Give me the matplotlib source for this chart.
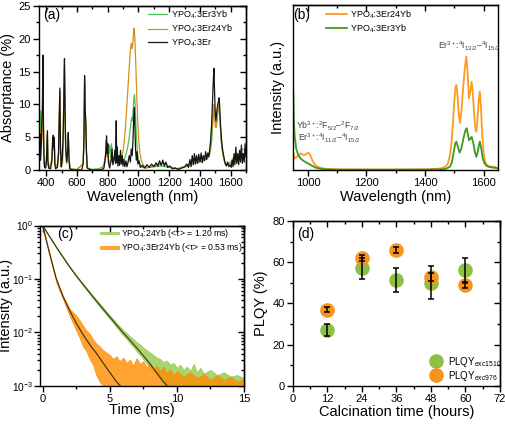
import numpy as np
import matplotlib
matplotlib.use("Agg")
import matplotlib.pyplot as plt
from matplotlib.ticker import MultipleLocator, LogLocator, NullFormatter

plt.rcParams['font.family'] = ['Liberation Sans', 'DejaVu Sans']
plt.rcParams['mathtext.fontset'] = 'custom'
plt.rcParams['mathtext.rm'] = 'Liberation Sans'
plt.rcParams['mathtext.it'] = 'Liberation Sans:italic'
plt.rcParams['mathtext.bf'] = 'Liberation Sans:bold'

# ---- (a) absorptance spectra: (wavelength nm, absorptance %)
a_black = np.array([
    (350,0.4),(355,2.8),(359,5.5),(362,1.5),(366,3),(370,7),(374,9),(378,17.5),(381,8),(384,2.5),
    (388,0.4),(396,0.3),(401,1.5),(404,4),(407,6),(410,1.5),(415,0.3),(428,0.2),(436,1.5),(441,4.5),
    (445,5.3),(448,3.5),(451,5),(455,1),(460,0.2),(472,0.4),(479,2.5),(484,8),(488,12.5),(492,3.5),
    (497,0.5),(503,1.5),(509,5),(514,11),(518,17),(522,9),(526,3.5),(532,1.2),(539,3),(543,5.7),
    (547,2),(552,0.2),(570,0),(630,0),(640,1),(645,5),(649,14.4),(653,9),(657,7.5),(661,3),
    (666,0.3),(690,0),(760,0),(775,0.3),(782,1.5),(788,3),(792,5.2),(796,2.5),(800,4),(804,1.2),
    (812,0.3),(822,1.5),(828,3.2),(833,0.8),(840,1.5),(846,3),(851,1),(855,7.5),(858,1.2),(862,3.5),
    (866,0.6),(872,2.2),(877,0.7),(883,3),(888,0.9),(894,2.2),(899,0.6),(905,1.6),(911,0.5),(918,1.4),
    (925,0.5),(932,1.2),(940,2.2),(947,1.2),(953,3.2),(959,2.2),(964,4.5),(969,8),(973,9.5),(977,6),
    (981,3),(986,1.5),(991,2.8),(996,0.9),(1003,1.4),(1012,0.4),(1025,0.7),(1040,0.3),(1055,0.8),
    (1070,0.4),(1085,0.9),(1100,0.5),(1115,1.1),(1126,0.6),(1137,1.4),(1148,0.7),(1158,1.5),(1168,0.6),
    (1178,1.2),(1190,0.4),(1205,0.6),(1220,0.2),(1240,0.3),(1260,0.1),(1280,0.3),(1300,0.5),(1315,0.9),
    (1325,0.4),(1335,1.6),(1342,0.5),(1350,2.2),(1357,0.8),(1364,2.5),(1371,0.9),(1378,2.2),(1385,1.0),
    (1392,2.4),(1400,1.2),(1408,2.6),(1415,1.1),(1422,2.2),(1430,1.4),(1437,2.8),(1444,1.6),(1451,2.6),
    (1458,2.0),(1464,3.2),(1470,4.5),(1476,7),(1481,10),(1486,13),(1491,15.5),(1495,12),(1499,9),
    (1504,7.5),(1510,9),(1516,10),(1521,10.5),(1525,11),(1530,9),(1535,6.5),(1541,4.5),(1548,3),
    (1556,2),(1564,1),(1572,0.6),(1580,1.2),(1588,0.5),(1596,0.8),(1604,0.4),(1610,1.5),(1616,0.5),
    (1622,2.5),(1628,0.8),(1634,3.5),(1640,1),(1646,2.5),(1652,0.8),(1658,3),(1664,1.2),(1670,3.8),
    (1676,1),(1682,2.5),(1688,1.2),(1694,4),(1700,2)])

a_green = np.array([
    (350,1),(355,4),(359,7),(363,9),(367,5),(372,6),(377,12),(381,5),(385,1),(392,0.3),(400,1.5),
    (404,3.5),(407,5),(410,1),(418,0.2),(436,1.2),(441,4),(445,4.5),(449,3),(452,4.2),(456,0.8),
    (470,0.3),(480,2.5),(484,7),(488,11),(492,3),(498,0.4),(505,1.2),(510,4.5),(514,10),(518,15.5),
    (522,8),(526,3),(533,1),(539,2.5),(543,5),(548,1.5),(555,0.2),(600,0.1),(640,1),(645,4.5),
    (649,13),(653,8),(657,6.5),(661,2.5),(667,0.3),(700,0.1),(740,0.2),(770,0.5),(785,2),(790,4.5),
    (795,3),(800,3.8),(806,2.5),(812,3.8),(818,2),(824,4),(830,2.2),(838,1.5),(846,2.2),(854,1.5),
    (862,2),(870,1.2),(880,1.5),(890,1.2),(900,1.4),(910,1.8),(920,2.5),(930,3.5),(940,5),(948,6.5),
    (955,8),(960,7.5),(965,9),(970,11),(974,11.5),(978,10),(983,7),(988,4.5),(994,2.5),(1000,1.5),
    (1010,0.8),(1025,0.4),(1050,0.3),(1100,0.5),(1150,0.6),(1200,0.4),(1250,0.2),(1300,0.4),
    (1340,0.8),(1380,1.2),(1420,1.4),(1450,1.8),(1465,2.5),(1475,4),(1482,6.5),(1488,8.5),
    (1493,9.5),(1498,8),(1503,6.5),(1509,7),(1515,8.5),(1521,9.5),(1526,9),(1532,7),(1538,4.5),
    (1545,3),(1555,1.8),(1565,1),(1580,0.8),(1600,1),(1620,1.5),(1640,1.8),(1660,2),(1680,2.5),
    (1700,2.5)])

a_orange = np.array([
    (350,2),(355,3.5),(359,6),(363,5),(367,3.5),(372,5),(377,13),(381,6),(385,1.5),(392,0.4),
    (400,1),(404,3),(407,5.5),(410,1.2),(418,0.3),(436,1.5),(441,4.5),(445,5),(449,3.2),(452,4.8),
    (456,1),(470,0.4),(480,2.5),(484,8),(488,12),(492,3.5),(498,0.5),(505,1.5),(510,5),(514,11),
    (518,16),(522,8.5),(526,3.5),(533,1.2),(539,2.8),(543,5.5),(548,1.8),(555,0.2),(600,0),(640,1),
    (645,4.8),(649,13.5),(653,8.5),(657,7),(661,2.8),(667,0.3),(700,0),(760,0.1),(780,1),(788,2.5),
    (792,4.5),(796,2),(800,3.5),(806,1.5),(815,1),(825,2),(832,1),(840,1.5),(848,2.5),(855,5),
    (860,1.5),(868,1.5),(876,1),(884,1.5),(892,2),(900,3),(908,4.5),(915,6.5),(922,9),(930,12),
    (938,15),(945,17.5),(950,19),(955,19.3),(960,18.5),(965,20),(970,21.6),(974,21),(978,19),
    (984,15),(990,10.5),(996,7),(1002,4.5),(1010,2.5),(1020,1.3),(1035,0.6),(1050,0.4),(1080,0.5),
    (1100,0.6),(1140,0.9),(1170,1),(1200,0.5),(1250,0.2),(1300,0.5),(1340,1),(1370,1.8),(1400,1.5),
    (1430,2),(1455,2.2),(1465,3),(1473,4.5),(1480,7),(1486,9),(1491,10),(1496,8.5),(1501,6.5),
    (1507,6.5),(1513,8.5),(1519,9.5),(1524,10),(1529,8.5),(1535,6),(1541,4),(1548,2.8),(1556,1.5),
    (1566,1),(1580,1),(1600,1.2),(1620,2),(1635,2.5),(1650,2),(1665,3),(1680,3.2),(1700,2.8)])

# ---- (b) emission spectra: (wavelength nm, intensity a.u.)
b_orange = np.array([
    (950,0.1),(955,0.07),(960,0.075),(968,0.09),(975,0.1),(980,0.095),(987,0.09),(993,0.095),
    (1000,0.105),(1005,0.1),(1010,0.08),(1017,0.05),(1025,0.03),(1035,0.018),(1050,0.01),
    (1070,0.006),(1100,0.004),(1200,0.003),(1300,0.003),(1400,0.004),(1440,0.007),(1460,0.012),
    (1470,0.02),(1478,0.04),(1485,0.09),(1490,0.16),(1495,0.28),(1500,0.42),(1504,0.5),(1507,0.515),
    (1511,0.45),(1515,0.34),(1519,0.285),(1524,0.35),(1530,0.5),(1536,0.62),(1541,0.687),(1545,0.6),
    (1550,0.434),(1555,0.48),(1559,0.535),(1563,0.47),(1568,0.33),(1572,0.25),(1575,0.232),
    (1579,0.3),(1583,0.42),(1587,0.475),(1591,0.38),(1595,0.22),(1600,0.1),(1605,0.05),(1612,0.03),
    (1620,0.022),(1630,0.02),(1640,0.018),(1650,0.006)])

b_green = np.array([
    (950,0.48),(952,0.3),(955,0.2),(960,0.13),(967,0.09),(975,0.07),(985,0.055),(995,0.045),
    (1005,0.035),(1015,0.025),(1025,0.015),(1040,0.008),(1060,0.004),(1100,0.002),(1300,0.002),
    (1440,0.003),(1470,0.006),(1485,0.02),(1492,0.05),(1498,0.11),(1503,0.16),(1507,0.172),
    (1512,0.14),(1518,0.105),(1524,0.13),(1532,0.2),(1538,0.24),(1542,0.253),(1546,0.22),
    (1550,0.18),(1555,0.19),(1559,0.2),(1564,0.17),(1570,0.11),(1575,0.08),(1580,0.11),
    (1584,0.15),(1587,0.172),(1592,0.13),(1597,0.07),(1603,0.04),(1610,0.025),(1620,0.018),
    (1635,0.014),(1650,0.01)])

# ---- (c) decay curves: (time ms, intensity)
c_green_fit = np.array([(0,1),(0.5,0.63),(1,0.4),(1.5,0.26),(2,0.17),(2.5,0.115),(3,0.08),(4,0.039),
                        (5,0.0195),(6,0.0099),(7,0.0052),(8,0.0026),(9,0.0012),(9.3,0.001)])
c_orange_fit = np.array([(0,1),(0.25,0.55),(0.5,0.31),(0.75,0.18),(1,0.105),(1.5,0.048),(2,0.026),
                         (2.5,0.015),(3,0.0092),(3.5,0.006),(4,0.0041),(4.5,0.0027),(5,0.0018),
                         (5.5,0.0012),(5.8,0.001)])
# measured data shown as band: (time, upper, lower)
c_green_data = np.array([
    (0,1.0,0.97),(1,0.41,0.39),(2,0.175,0.165),(3,0.082,0.075),(4,0.041,0.036),(5,0.021,0.018),
    (5.5,0.0152,0.0125),(6,0.011,0.0088),(6.25,0.0098,0.0076),(6.5,0.0085,0.0063),(6.75,0.0076,0.0054),
    (7,0.0066,0.0045),(7.25,0.006,0.0038),(7.5,0.0052,0.0032),(7.75,0.0047,0.0026),(8,0.0042,0.0022),
    (8.25,0.0038,0.0019),(8.5,0.0034,0.0016),(8.75,0.0032,0.0013),(9,0.0028,0.0011),
    (9.25,0.0030,0.0009),(9.5,0.0025,0.0008),(9.75,0.0027,0.0008),(10,0.0022,0.0008),
    (10.25,0.0025,0.0008),(10.5,0.002,0.0008),(10.75,0.0023,0.0008),(11,0.0019,0.0008),
    (11.25,0.0026,0.0008),(11.5,0.0018,0.0008),(11.75,0.0022,0.0008),(12,0.0017,0.0008),
    (12.5,0.002,0.0008),(13,0.0016,0.0008),(13.5,0.0018,0.0008),(14,0.0015,0.0008),
    (14.5,0.0016,0.0008),(15,0.0014,0.0008)])
c_orange_data = np.array([
    (0,1.0,0.95),(0.5,0.32,0.29),(1,0.1,0.088),(1.5,0.05,0.043),(2,0.028,0.021),(2.25,0.024,0.015),
    (2.5,0.021,0.011),(2.75,0.017,0.008),(3,0.0135,0.0055),(3.25,0.011,0.0045),(3.5,0.0095,0.0032),
    (3.75,0.0075,0.0025),(4,0.0062,0.0016),(4.25,0.0055,0.0012),(4.5,0.0047,0.001),
    (4.75,0.0042,0.0008),(5,0.0038,0.0008),(5.25,0.0032,0.0008),(5.5,0.0036,0.0008),
    (5.75,0.0029,0.0008),(6,0.0034,0.0008),(6.25,0.0027,0.0008),(6.5,0.0031,0.0008),
    (6.75,0.0024,0.0008),(7,0.0033,0.0008),(7.25,0.0026,0.0008),(7.5,0.0029,0.0008),
    (7.75,0.0022,0.0008),(8,0.0027,0.0008),(8.25,0.002,0.0008),(8.5,0.0024,0.0008),
    (8.75,0.0019,0.0008),(9,0.0023,0.0008),(9.25,0.0017,0.0008),(9.5,0.0021,0.0008),
    (9.75,0.0016,0.0008),(10,0.0019,0.0008),(10.5,0.0015,0.0008),(11,0.0018,0.0008),
    (11.5,0.0014,0.0008),(12,0.0017,0.0008),(12.5,0.0013,0.0008),(13,0.0016,0.0008),
    (13.5,0.0013,0.0008),(14,0.0015,0.0008),(14.5,0.0012,0.0008),(15,0.0014,0.0008)])

# ---- (d) PLQY vs calcination time
calc_time = [12, 24, 36, 48, 60]
plqy_1510 = [27, 57, 51.5, 50, 56]
err_1510 = [3, 5.3, 5.7, 8, 6]
plqy_976 = [37, 62, 66, 53, 49]
err_976 = [1.2, 1.5, 1.5, 2, 1.5]


def style(ax, xmaj, xmin, ymaj=None, ymin=None, top=True, right=True, log=False):
    ax.xaxis.set_major_locator(MultipleLocator(xmaj))
    ax.xaxis.set_minor_locator(MultipleLocator(xmin))
    if ymaj is not None:
        ax.yaxis.set_major_locator(MultipleLocator(ymaj))
        ax.yaxis.set_minor_locator(MultipleLocator(ymin))
    ax.tick_params(which='both', direction='out', labelsize=8, width=1, pad=2)
    ax.tick_params(which='major', length=4)
    ax.tick_params(which='minor', length=2)
    for s in ax.spines.values():
        s.set_linewidth(1.0)
    if top:
        t = ax.secondary_xaxis('top')
        t.xaxis.set_major_locator(MultipleLocator(xmaj))
        t.xaxis.set_minor_locator(MultipleLocator(xmin))
        t.tick_params(which='both', direction='in', labeltop=False, width=1)
        t.tick_params(which='major', length=4)
        t.tick_params(which='minor', length=2)
        t.spines['top'].set_linewidth(1.0)
    if right:
        r = ax.secondary_yaxis('right')
        if log:
            r.yaxis.set_major_locator(LogLocator(base=10))
            r.yaxis.set_minor_locator(LogLocator(base=10, subs=np.arange(2, 10)))
            r.yaxis.set_minor_formatter(NullFormatter())
        else:
            r.yaxis.set_major_locator(MultipleLocator(ymaj))
            r.yaxis.set_minor_locator(MultipleLocator(ymin))
        r.tick_params(which='both', direction='in', labelright=False, width=1)
        r.tick_params(which='major', length=4)
        r.tick_params(which='minor', length=2)
        r.spines['right'].set_linewidth(1.0)


def labels(ax, xl, yl, xy, yx):
    ax.set_xlabel(xl, fontsize=10.5)
    ax.set_ylabel(yl, fontsize=10.5)
    ax.xaxis.set_label_coords(0.5, xy)
    ax.yaxis.set_label_coords(yx, 0.5)
    ax.xaxis.label.set_va('center')
    ax.yaxis.label.set_va('center')


fig = plt.figure(figsize=(5.06, 4.25), dpi=100)

# (a)
ax = fig.add_axes([0.0764, 0.6, 0.4098, 0.3859])
ax.plot(a_green[:, 0], a_green[:, 1], color='#4cc35a', lw=0.9, label='YPO$_4$:3Er3Yb')
ax.plot(a_orange[:, 0], a_orange[:, 1], color='#d4901c', lw=0.9, label='YPO$_4$:3Er24Yb')
ax.plot(a_black[:, 0], a_black[:, 1], color='#151515', lw=0.9, label='YPO$_4$:3Er')
ax.set_xlim(350, 1700)
ax.set_ylim(0, 25)
style(ax, 200, 100, 5, 2.5)
labels(ax, 'Wavelength (nm)', 'Absorptance (%)', -0.163, -0.146)
ax.legend(loc='upper left', bbox_to_anchor=(0.527, 0.985), frameon=False, fontsize=6.5,
          handlelength=2.1, handletextpad=0.5, labelspacing=0.2, borderpad=0, borderaxespad=0)
ax.text(0.062, 0.945, '(a)', transform=ax.transAxes, fontsize=10, ha='center', va='center')

# (b)
ax = fig.add_axes([0.5796, 0.6, 0.4051, 0.3882])
ax.plot(b_orange[:, 0], b_orange[:, 1], color='#ff9a1e', lw=1.3, label='YPO$_4$:3Er24Yb')
ax.plot(b_green[:, 0], b_green[:, 1], color='#3e9a1e', lw=1.3, label='YPO$_4$:3Er3Yb')
ax.set_xlim(950, 1650)
ax.set_ylim(0, 1.0)
style(ax, 200, 100, top=True, right=False)
ax.tick_params(axis='y', left=False, labelleft=False, which='both')
labels(ax, 'Wavelength (nm)', 'Intensity (a.u.)', -0.162, -0.075)
ax.legend(loc='upper left', bbox_to_anchor=(0.158, 0.98), frameon=False, fontsize=6.5,
          handlelength=2.4, handletextpad=0.3, labelspacing=0.2, borderpad=0, borderaxespad=0)
ax.text(0.042, 0.94, '(b)', transform=ax.transAxes, fontsize=10, ha='center', va='center')
ax.text(0.015, 0.265, 'Yb$^{3+}$:$^2$F$_{5/2}$–$^2$F$_{7/2}$', transform=ax.transAxes,
        fontsize=6.2, color='#404040', va='center')
ax.text(0.023, 0.19, 'Er$^{3+}$:$^4$I$_{11/2}$–$^4$I$_{15/2}$', transform=ax.transAxes,
        fontsize=6.2, color='#404040', va='center')
ax.text(0.706, 0.747, 'Er$^{3+}$:$^4$I$_{13/2}$–$^4$I$_{15/2}$', transform=ax.transAxes,
        fontsize=6.2, color='#404040', va='center')

# (c)
ax = fig.add_axes([0.079, 0.0918, 0.4032, 0.3776])
ax.fill_between(c_green_data[:, 0], c_green_data[:, 2], c_green_data[:, 1],
                color='#8cc63f', alpha=0.75, lw=0.6, label='YPO$_4$:24Yb (<τ> = 1.20 ms)')
ax.fill_between(c_orange_data[:, 0], c_orange_data[:, 2], c_orange_data[:, 1],
                color='#ff8c00', alpha=0.8, lw=0.6, label='YPO$_4$:3Er24Yb (<τ> = 0.53 ms)')
ax.plot(c_green_fit[:, 0], c_green_fit[:, 1], color='#2f3a1a', lw=0.8)
ax.plot(c_orange_fit[:, 0], c_orange_fit[:, 1], color='#3a2a10', lw=0.8)
ax.set_yscale('log')
ax.set_xlim(-0.2, 15)
ax.set_ylim(1e-3, 1)
style(ax, 5, 2.5, top=True, right=True, log=True)
ax.yaxis.set_major_locator(LogLocator(base=10))
ax.yaxis.set_minor_locator(LogLocator(base=10, subs=np.arange(2, 10)))
ax.yaxis.set_minor_formatter(NullFormatter())
ax.tick_params(axis='y', labelsize=7.3, pad=1)
labels(ax, 'Time (ms)', 'Intensity (a.u.)', -0.151, -0.168)
ax.legend(loc='upper left', bbox_to_anchor=(0.294, 0.99), frameon=False, fontsize=6.2,
          handlelength=2.2, handletextpad=0.3, labelspacing=0.15, borderpad=0, borderaxespad=0,
          handleheight=0.15)
ax.text(0.125, 0.944, '(c)', transform=ax.transAxes, fontsize=10, ha='center', va='center')

# (d)
ax = fig.add_axes([0.579, 0.0918, 0.409, 0.3882])
ax.plot(calc_time, plqy_1510, 'o', ms=9.5, color='#8dc044', label='PLQY$_{exc1510}$')
ax.plot(calc_time, plqy_976, 'o', ms=9.5, color='#f7931e', label='PLQY$_{exc976}$')
ax.errorbar(calc_time, plqy_1510, yerr=err_1510, fmt='none', ecolor='black', elinewidth=1.1,
            capsize=2.5, capthick=1.1)
ax.errorbar(calc_time, plqy_976, yerr=err_976, fmt='none', ecolor='black', elinewidth=1.1,
            capsize=2.5, capthick=1.1)
ax.set_xlim(0, 72)
ax.set_ylim(0, 80)
style(ax, 12, 6, 20, 10)
labels(ax, 'Calcination time (hours)', 'PLQY (%)', -0.158, -0.153)
ax.legend(loc='lower left', bbox_to_anchor=(0.669, 0.02), frameon=False, fontsize=7,
          handlelength=1.0, handletextpad=0.7, labelspacing=0.0, borderpad=0, borderaxespad=0)
ax.text(0.06, 0.923, '(d)', transform=ax.transAxes, fontsize=10, ha='center', va='center')

fig.savefig('out.png', dpi=100)
